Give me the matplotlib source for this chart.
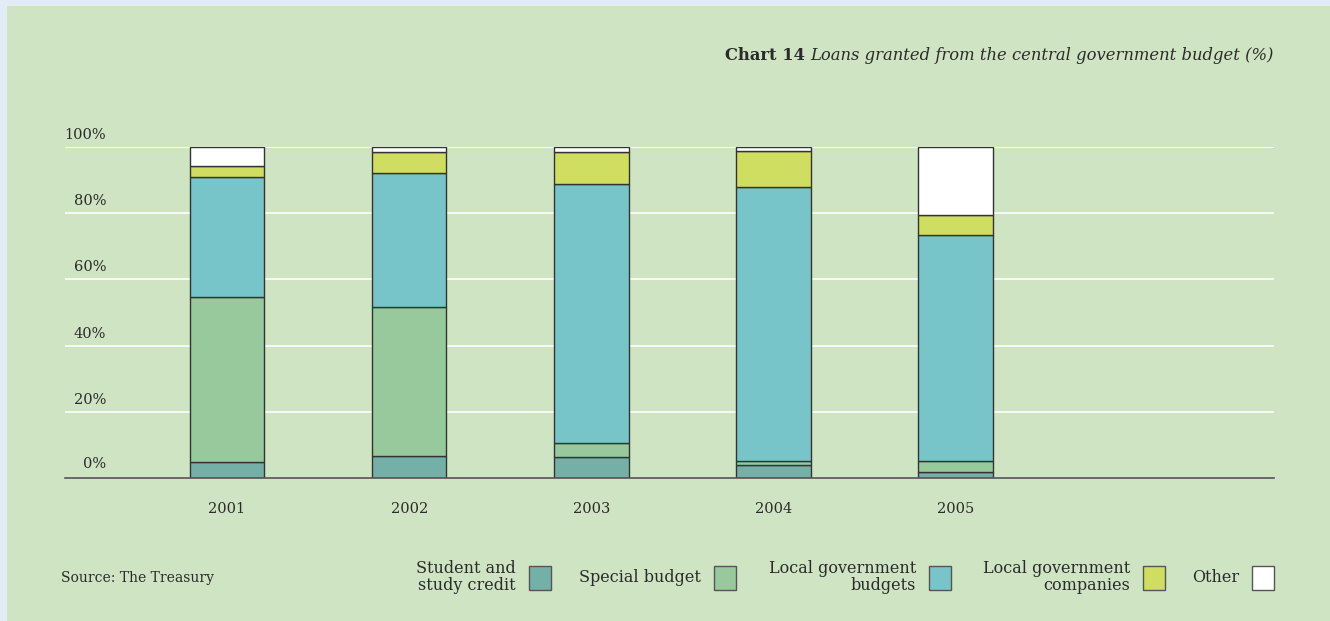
import matplotlib.pyplot as plt
from matplotlib.patches import Rectangle
import numpy as np

years = ["2001", "2002", "2003", "2004", "2005"]
student_credit = [4.7, 6.7, 6.2, 3.8, 1.8]
special_budget = [49.9, 45.1, 4.5, 1.2, 3.2]
local_gov_budgets = [36.3, 40.4, 78.2, 83.0, 68.3]
local_gov_companies = [3.4, 6.4, 9.7, 10.9, 6.3]
other = [5.7, 1.4, 1.4, 1.1, 20.4]

series = [student_credit, special_budget, local_gov_budgets,
          local_gov_companies, other]
labels = ["Student and\nstudy credit", "Special budget",
          "Local government\nbudgets", "Local government\ncompanies", "Other"]
colors = ["#75b0a8", "#98c99c", "#77c5c8", "#cfdd60", "#ffffff"]
yticks = [0, 20, 40, 60, 80, 100]

BG = "#cfe4c3"
TXT = "#2b2b2b"
plt.rcParams["font.family"] = ["DejaVu Serif"]

fig = plt.figure(figsize=(13.3, 6.21), dpi=100)
fig.patch.set_facecolor("#e1ecf5")
# green panel inset from the top/left edges
fig.patches.append(Rectangle((7 / 1330, 0), 1, 1 - 6 / 621, transform=fig.transFigure,
                             facecolor=BG, edgecolor="none", zorder=-5))

ax = fig.add_axes([65 / 1330, 1 - 478 / 621, (1274 - 65) / 1330, (478 - 147) / 621])
ax.set_facecolor("none")
x = np.arange(len(years))
bottom = np.zeros(len(years))
for vals, col in zip(series, colors):
    ax.bar(x, vals, bottom=bottom, width=0.41, color=col,
           edgecolor="#333333", linewidth=1.0, zorder=3)
    bottom += np.array(vals)

ax.set_xlim(-0.89, 5.75)
ax.set_ylim(0, 100)
for s in ["top", "right", "left"]:
    ax.spines[s].set_visible(False)
ax.spines["bottom"].set_color("#555555")
ax.spines["bottom"].set_linewidth(1.2)
ax.spines["bottom"].set_zorder(4)

for t in yticks[1:]:
    ax.axhline(t, color="white", linewidth=1.2, zorder=1)
ax.set_yticks([])
for t in yticks:
    ax.text(0.034, t + 1.5 if t else 2, f"{t}%", transform=ax.get_yaxis_transform(),
            ha="right", va="bottom", fontsize=10.5, color=TXT)

ax.set_xticks(x)
ax.set_xticklabels(years, fontsize=10.5, color=TXT)
ax.tick_params(axis="x", length=0, pad=17)

t1 = fig.text(1274 / 1330, 1 - 55 / 621,
              "Loans granted from the central government budget (%)",
              ha="right", va="center", fontsize=11.8, style="italic", color=TXT)
fig.canvas.draw()
bb = t1.get_window_extent()
fig.text(bb.x0 / 1330 - 0.004, 1 - 55 / 621, "Chart 14", ha="right", va="center",
         fontsize=11.8, fontweight="bold", color=TXT)

fig.text(61 / 1330, 1 - 578 / 621, "Source: The Treasury", ha="left", va="center",
         fontsize=10, color=TXT)

# legend: right-aligned labels followed by a swatch
box_left = [529, 714, 929, 1143, 1252]
for lab, col, bx in zip(labels, colors, box_left):
    fig.patches.append(Rectangle((bx / 1330, 1 - 590 / 621), 22 / 1330, 24 / 621,
                                 transform=fig.transFigure, facecolor=col,
                                 edgecolor="#555555", linewidth=1.0))
    fig.text((bx - 13) / 1330, 1 - 577 / 621, lab, ha="right", va="center",
             fontsize=11.5, color=TXT, linespacing=0.95, multialignment="right")

fig.savefig("out.png", dpi=100, facecolor=fig.get_facecolor())
